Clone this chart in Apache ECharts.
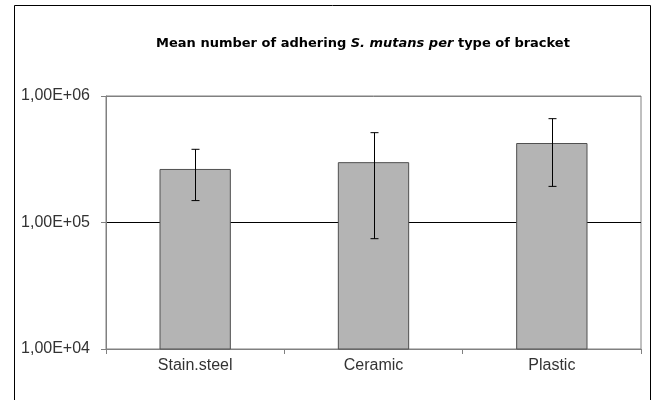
<!DOCTYPE html>
<html>
<head>
<meta charset="utf-8">
<script src="https://cdn.jsdelivr.net/npm/echarts@6/dist/echarts.min.js"></script>
<style>
  html, body { margin: 0; padding: 0; background: #fff; }
  #chart { width: 654px; height: 400px; }
</style>
</head>
<body>
<div id="chart"></div>
<script>
// bracket types and mean counts (log scale)
var categories = ['Stain.steel', 'Ceramic', 'Plastic'];
var means = [265000, 300000, 425000];
var errLow = [149000, 74500, 193000];
var errHigh = [379000, 513000, 662000];

var chart = echarts.init(document.getElementById('chart'), null, { renderer: 'canvas' });

function sciLabel(v) {
  var e = Math.round(Math.log10(v));
  var m = v / Math.pow(10, e);
  var s = m.toFixed(2).replace('.', ',');
  return s + 'E+' + (e < 10 ? '0' + e : e);
}

var option = {
  backgroundColor: '#fff',
  animation: false,
  title: {
    left: 358,
    top: 32,
    textAlign: 'center',
    text: '{b|Mean number of adhering }{i|S. mutans per}{b| type of bracket}',
    textStyle: {
      rich: {
        b: { fontFamily: 'DejaVu Sans', fontWeight: 'bold', fontSize: 13, color: '#000' },
        i: { fontFamily: 'DejaVu Sans', fontWeight: 'bold', fontStyle: 'italic', fontSize: 13, color: '#000' }
      }
    }
  },
  graphic: [{
    type: 'rect',
    shape: { x: 14.5, y: 5.5, width: 636, height: 400 },
    style: { fill: 'none', stroke: '#000', lineWidth: 1 },
    silent: true
  }],
  grid: {
    left: 106, right: 13, top: 96, bottom: 51,
    show: true, borderColor: '#808080', borderWidth: 1
  },
  xAxis: {
    type: 'category',
    data: categories,
    axisLine: { lineStyle: { color: '#808080' } },
    axisTick: { show: true, alignWithLabel: false, length: 5, lineStyle: { color: '#808080' } },
    axisLabel: { color: '#333', fontFamily: 'Liberation Sans', fontSize: 16, margin: 9 }
  },
  yAxis: {
    type: 'log',
    logBase: 10,
    min: 10000,
    max: 1000000,
    axisLine: { show: true, lineStyle: { color: '#808080' } },
    axisTick: { show: true, length: 5, lineStyle: { color: '#808080' } },
    axisLabel: { color: '#333', fontFamily: 'Liberation Sans', fontSize: 16, margin: 16, formatter: sciLabel },
    splitLine: { show: true, lineStyle: { color: ['#808080', '#000', '#808080'], width: 1 } }
  },
  series: [{
    type: 'bar',
    data: means,
    barCategoryGap: '60%',
    itemStyle: { color: '#b4b4b4', borderColor: '#505050', borderWidth: 1 },
    z: 3
  }, {
    type: 'custom',
    z: 4,
    data: categories.map(function (c, i) { return [i, errLow[i], errHigh[i]]; }),
    renderItem: function (params, api) {
      var lo = api.coord([api.value(0), api.value(1)]);
      var hi = api.coord([api.value(0), api.value(2)]);
      var x = Math.round(lo[0]) + 0.5;
      var w = 4;
      var st = { stroke: '#000', lineWidth: 1 };
      return {
        type: 'group',
        children: [
          { type: 'line', shape: { x1: x, y1: hi[1], x2: x, y2: lo[1] }, style: st },
          { type: 'line', shape: { x1: x - w, y1: hi[1], x2: x + w, y2: hi[1] }, style: st },
          { type: 'line', shape: { x1: x - w, y1: lo[1], x2: x + w, y2: lo[1] }, style: st }
        ]
      };
    }
  }]
};

chart.setOption(option);
</script>
</body>
</html>
